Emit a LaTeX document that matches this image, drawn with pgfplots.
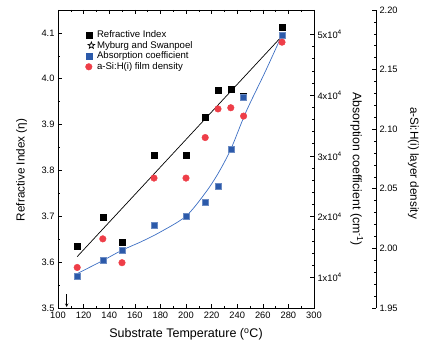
\documentclass[border=0pt]{standalone}
\usepackage{fontspec}
\setmainfont{Liberation Sans}
\usepackage{pgfplots}
\usepackage{pgfplotstable}
\pgfplotsset{compat=1.18}
\usetikzlibrary{shapes.geometric}
\definecolor{myblue}{RGB}{44,90,170}
\definecolor{curveblue}{RGB}{60,110,195}
\definecolor{myred}{RGB}{238,62,72}

\pgfplotstableread{
T n
115 3.634
135 3.698
150 3.643
175 3.833
200 3.833
215 3.916
225 3.976
235 3.977
245 3.963
275 4.113
}\refidx

\pgfplotstableread{
T a
115 10200
135 12800
150 14500
175 18600
200 20100
215 22400
225 25000
235 31100
245 39700
275 49800
}\absorb

\pgfplotstableread{
T d
115 1.984
135 2.008
150 1.988
175 2.059
200 2.059
215 2.093
225 2.117
235 2.118
245 2.111
275 2.173
}\dens

\pgfplotsset{
  common/.style={
    at={(0,0)}, anchor=south west, scale only axis, width=256pt, height=298pt,
    xmin=100, xmax=300,
    tick align=inside, major tick length=4pt, minor tick length=2pt,
    axis line style={line width=0.8pt}, tick style={line width=0.6pt,black},
    /pgf/number format/assume math mode=true,
    every tick label/.append style={font=\fontsize{9.3}{11}\selectfont},
  }
}

\begin{document}
\begin{tikzpicture}
\path[use as bounding box] (-58pt,-39pt) rectangle (375pt,308pt);

% main axis: refractive index
\begin{axis}[common,
  ymin=3.5, ymax=4.15,
  xtick={100,120,...,300}, minor x tick num=1, xtick pos=both,
  ytick={3.5,3.6,...,4.1}, minor y tick num=1, ytick pos=left,
  yticklabel style={/pgf/number format/.cd, fixed, fixed zerofill, precision=1},
  xticklabel style={/pgf/number format/.cd, fixed, precision=0, 1000 sep={}},
  xlabel={Substrate Temperature (\textsuperscript{o}C)},
  ylabel={Refractive Index (η)},
  every axis x label/.style={at={(axis description cs:0.5,0)}, yshift=-26.3pt, anchor=center, font=\fontsize{12.5}{14}\selectfont},
  every axis y label/.style={at={(axis description cs:-0.1418,0.463)}, rotate=90, anchor=center, font=\fontsize{11.7}{14}\selectfont},
  legend style={at={(axis description cs:0.095,0.945)}, anchor=north west, draw=none, fill=none,
    font=\fontsize{9.6}{11}\selectfont, row sep=-1.8pt,
    /tikz/every even column/.append style={column sep=3pt}},
  legend cell align=left,
]
\addplot[only marks, mark=square*, mark size=3pt, black] table[x=T,y=n]{\refidx};
\addlegendentry{Refractive Index}
\addlegendimage{legend image code/.code={\node[star, star points=5, star point ratio=2.4, draw=black, fill=white, line width=0.7pt, minimum size=7pt, inner sep=0pt] at (0.3cm,0) {};}}
\addlegendentry{Myburg and Swanpoel}
\addlegendimage{only marks, mark=square*, mark size=3pt, myblue}
\addlegendentry{Absorption coefficient}
\addlegendimage{only marks, mark=*, mark size=3.3pt, myred}
\addlegendentry{a-Si:H(i) film density}
\addplot[black, line width=0.7pt, no marks, forget plot] coordinates {(115,3.612) (275,4.093)};
\draw[-stealth, line width=0.6pt] (axis cs:106.8,3.53) -- (axis cs:106.8,3.502);
\end{axis}

% absorption coefficient axis (right)
\begin{axis}[common,
  axis x line=none, axis y line*=right,
  ymin=5000, ymax=54000,
  ytick={10000,20000,30000,40000,50000},
  yticklabels={1x10\textsuperscript{4},2x10\textsuperscript{4},3x10\textsuperscript{4},4x10\textsuperscript{4},5x10\textsuperscript{4}},
  minor y tick num=4,
  scaled y ticks=false,
  ylabel={Absorption coefficient (cm\textsuperscript{-1})},
  every axis y label/.style={at={(axis description cs:1.1668,0.4664)}, rotate=-90, anchor=center, font=\fontsize{12.3}{14}\selectfont},
]
\addplot[only marks, mark=square*, mark size=3pt, myblue, mark options={draw=myblue!70!white, fill=myblue}] table[x=T,y=a]{\absorb};
\addplot[curveblue, line width=0.7pt, smooth, no marks] coordinates {
(115,10650) (135,12800) (150,14500) (165,15900) (180,17500) (200,20100)
(215,23900) (225,27100) (235,31100) (247,37300) (262,43900) (275,49900)};
\end{axis}

% density data
\begin{axis}[common, hide axis, ymin=1.95, ymax=2.20]
\addplot[only marks, mark=*, mark size=3.3pt, myred, mark options={draw=myred, fill=myred}] table[x=T,y=d]{\dens};
\end{axis}

% density axis (offset)
\begin{axis}[common, at={(62pt,0)},
  axis x line=none, axis y line*=right,
  ymin=1.95, ymax=2.20,
  ytick={1.95,2.00,...,2.21}, minor y tick num=4,
  yticklabel style={/pgf/number format/.cd, fixed, fixed zerofill, precision=2},
  ylabel={a-Si:H(i) layer density},
  every axis y label/.style={at={(axis description cs:1.1457,0.4866)}, rotate=-90, anchor=center, font=\fontsize{11.7}{14}\selectfont},
]
\end{axis}
\end{tikzpicture}
\end{document}
